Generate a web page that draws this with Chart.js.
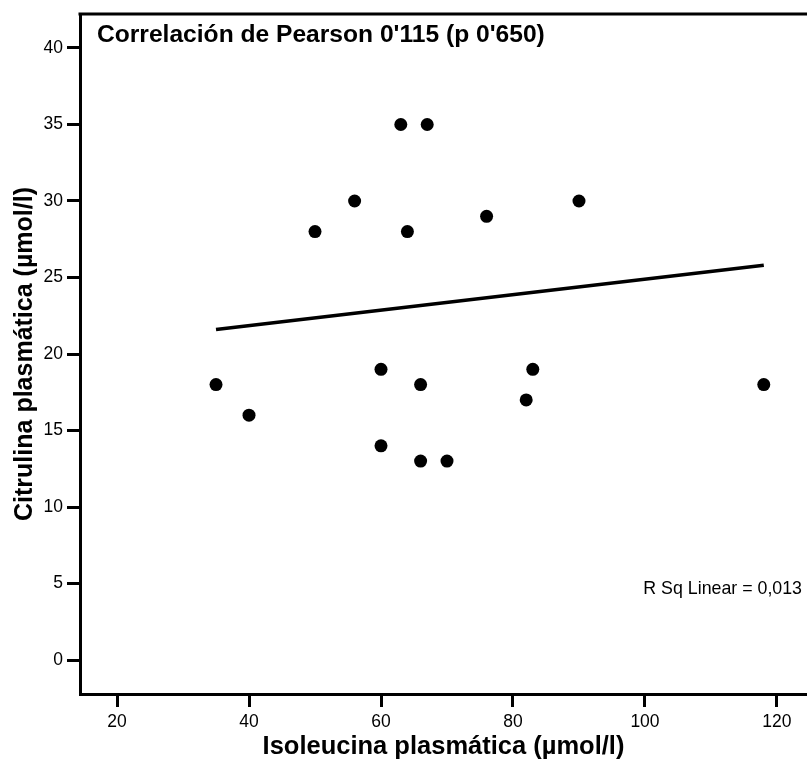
<!DOCTYPE html>
<html>
<head>
<meta charset="utf-8">
<script src="https://cdn.jsdelivr.net/npm/chart.js@4"></script>
<style>
  html, body { margin: 0; padding: 0; background: #fff; }
  canvas { display: block; }
</style>
</head>
<body>
<canvas id="scatter" width="807" height="765"></canvas>
<script>
// Data
const isoleucina = [35, 40, 50, 56, 60, 60, 63, 64, 66, 66, 67, 70, 76, 82, 83, 90, 118];
const citrulina  = [18, 16, 28, 30, 19, 14, 35, 28, 18, 13, 35, 13, 29, 17, 19, 30, 18];

// Fit line end points (as drawn in the picture)
const fitX = [35, 118];
const fitY = [21.6, 25.8];

// Tick labels
const xTicks = [20, 40, 60, 80, 100, 120];
const yTicks = [0, 5, 10, 15, 20, 25, 30, 35, 40];

const chartTitle = "Correlación de Pearson 0'115 (p 0'650)";
const fitLabel   = 'R Sq Linear = 0,013';

const FONT = "'Liberation Sans', Arial, sans-serif";

// Scatter points + fit line
const points = isoleucina.map((x, i) => ({ x, y: citrulina[i] }));
const fitLine = fitX.map((x, i) => ({ x, y: fitY[i] }));

// Top frame line + text labels inside the plot area
const framePlugin = {
  id: 'frame',
  afterDraw(chart) {
    const { ctx, chartArea: a } = chart;
    ctx.save();
    ctx.strokeStyle = '#000';
    ctx.lineWidth = 3;
    ctx.beginPath();
    ctx.moveTo(a.left - 1.5, a.top);
    ctx.lineTo(a.right, a.top);
    ctx.stroke();

    ctx.fillStyle = '#000';
    ctx.textBaseline = 'alphabetic';
    ctx.font = 'bold 24.6px ' + FONT;
    ctx.textAlign = 'left';
    ctx.fillText(chartTitle, a.left + 17, a.top + 28);

    ctx.font = '17.8px ' + FONT;
    ctx.textAlign = 'right';
    ctx.fillText(fitLabel, a.right - 5, a.top + 580);
    ctx.restore();
  }
};

const axisStyle = {
  grid:   { drawOnChartArea: false, drawTicks: true, tickLength: 13, tickWidth: 3, tickColor: '#000' },
  border: { display: true, color: '#000', width: 3 },
  ticks:  { color: '#000', font: { family: FONT, size: 17.5 }, padding: 4 }
};

// no extra room for overflowing tick labels: the plot runs to the canvas edge
const noPad = s => { s.paddingLeft = 0; s.paddingRight = 0; s.paddingTop = 0; s.paddingBottom = 0; };

new Chart(document.getElementById('scatter'), {
  type: 'scatter',
  data: {
    datasets: [
      {
        label: 'Pacientes',
        data: points,
        backgroundColor: '#000',
        borderWidth: 0,
        pointRadius: 6.5,
        pointHoverRadius: 6.5
      },
      {
        label: 'Fit line',
        type: 'line',
        data: fitLine,
        borderColor: '#000',
        borderWidth: 3.5,
        pointRadius: 0,
        fill: false
      }
    ]
  },
  options: {
    responsive: false,
    animation: false,
    layout: { autoPadding: false, padding: { top: 14, right: 0, left: 0, bottom: 0 } },
    plugins: {
      legend: { display: false },
      tooltip: { enabled: false }
    },
    scales: {
      x: {
        type: 'linear',
        position: 'bottom',
        min: 14.39, max: 124.55,
        ...axisStyle,
        ticks: { ...axisStyle.ticks, padding: 5 },
        afterBuildTicks: s => { s.ticks = xTicks.map(v => ({ value: v })); },
        afterFit: s => { s.height = 71; noPad(s); },
        title: {
          display: true,
          text: 'Isoleucina plasmática (µmol/l)',
          color: '#000',
          font: { family: FONT, size: 25.5, weight: 'bold' },
          padding: { top: 0, bottom: 3 }
        }
      },
      y: {
        type: 'linear',
        min: -2.22, max: 42.22,
        ...axisStyle,
        afterBuildTicks: s => { s.ticks = yTicks.map(v => ({ value: v })); },
        afterFit: s => { s.width = 80; noPad(s); },
        title: {
          display: true,
          text: 'Citrulina plasmática (µmol/l)',
          color: '#000',
          font: { family: FONT, size: 25, weight: 'bold' },
          padding: { top: 10, bottom: 0 }
        }
      }
    }
  },
  plugins: [framePlugin]
});
</script>
</body>
</html>
